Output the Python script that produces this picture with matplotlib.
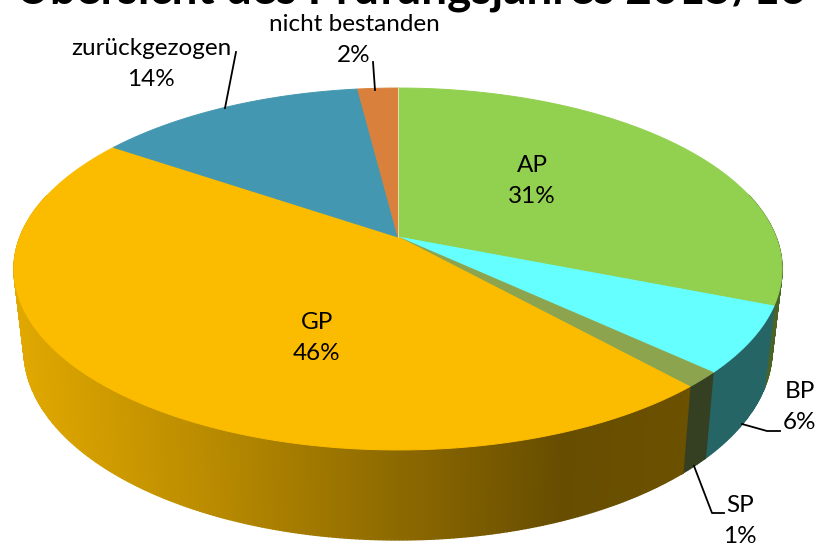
import numpy as np
import matplotlib
matplotlib.use("Agg")
import matplotlib.pyplot as plt

title = "Übersicht des Prüfungsjahres 2015/16"
categories = ["AP", "BP", "SP", "GP", "zurückgezogen", "nicht bestanden"]
values = [31.0, 5.9, 1.4, 46.2, 13.5, 2.0]

top_colors = ["#92D050", "#66FFFF", "#8DA44F", "#FBBC00", "#4397B0", "#D9813C"]
wall_colors = ["#4A6329", "#266566", "#354023", "#FBBC00", "#2A5F70", "#8A5226"]

plt.rcParams["font.family"] = ["Lato", "DejaVu Sans"]

# perspective of the disc: k tilts the circle, c and a scale it
cx = 398
top_disc = dict(k=0.1768, c=378, a=175.3, y0=237)
bottom_disc = dict(k=0.18, c=367.9, a=183.8, y0=315.8)


def project(theta, disc):
    u = np.cos(theta)
    v = np.sin(theta)
    w = 1 + disc["k"] * v
    return cx + disc["c"] * u / w, disc["y0"] - disc["a"] * v / w


def wall_shade(x):
    return np.interp(x, [14, 200, 400, 560, 690], [0.90, 0.75, 0.56, 0.41, 0.43])


fig, ax = plt.subplots(figsize=(8.2, 5.48), dpi=100)
ax.set_position([0, 0, 1, 1])
ax.set_xlim(0, 820)
ax.set_ylim(548, 0)
ax.axis("off")

# slices run clockwise from twelve o'clock
edges = 90 - np.cumsum([0] + values) / sum(values) * 360

# wall first, back to front, in thin strips
strips = []
for i in range(len(values)):
    angles = np.radians(np.arange(edges[i], edges[i + 1] - 0.5, -0.5))
    angles = np.append(angles, np.radians(edges[i + 1]))
    for a0, a1 in zip(angles[:-1], angles[1:]):
        strips.append((np.sin((a0 + a1) / 2), i, a0, a1))
strips.sort(key=lambda s: -s[0])

for _, i, a0, a1 in strips:
    # the back half is hidden by the top face anyway, apart from the two sides
    if np.sin((a0 + a1) / 2) > 0.25:
        continue
    x0, y0 = project(a0, top_disc)
    x1, y1 = project(a1, top_disc)
    x2, y2 = project(a1, bottom_disc)
    x3, y3 = project(a0, bottom_disc)
    color = matplotlib.colors.to_rgb(wall_colors[i])
    if categories[i] == "GP":
        color = tuple(ch * wall_shade((x0 + x1 + x2 + x3) / 4) for ch in color)
    ax.fill([x0, x1, x2, x3], [y0, y1, y2, y3], color=color, lw=1.0, zorder=2)

# top face
center_y = top_disc["y0"]
for i in range(len(values)):
    angles = np.radians(np.linspace(edges[i], edges[i + 1], 200))
    xs, ys = project(angles, top_disc)
    ax.fill(np.r_[cx, xs], np.r_[center_y, ys], facecolor=top_colors[i],
            edgecolor=top_colors[i], lw=0.7, zorder=3)

# pale seam at twelve o'clock
xs, ys = project(np.radians(edges[0]), top_disc)
ax.plot([cx, xs], [center_y, ys], color="#E6E2B0", lw=0.7, zorder=3.5)

# labels
label_pos = {
    "AP": (532, 181),
    "BP": (800, 407),
    "SP": (740, 521),
    "GP": (317, 338),
    "zurückgezogen": (151, 64),
    "nicht bestanden": (354, 40),
}
for name, value in zip(categories, values):
    x, y = label_pos[name]
    ax.text(x, y, f"{name}\n{round(value)}%", ha="center", va="center",
            fontsize=17.5, color="black", linespacing=1.6, zorder=5)

# leader lines
leaders = [
    ([236, 225], [52, 108]),
    ([373, 375], [62, 90]),
    ([742, 767, 780], [424, 431, 431]),
    ([694, 712, 724], [466, 513, 513]),
]
for xs, ys in leaders:
    ax.plot(xs, ys, color="black", lw=1.3, zorder=4)

ax.text(411, 3, title, ha="center", va="baseline", fontsize=33,
        fontweight="bold", color="black", zorder=6)

fig.savefig("out.png", dpi=100)
